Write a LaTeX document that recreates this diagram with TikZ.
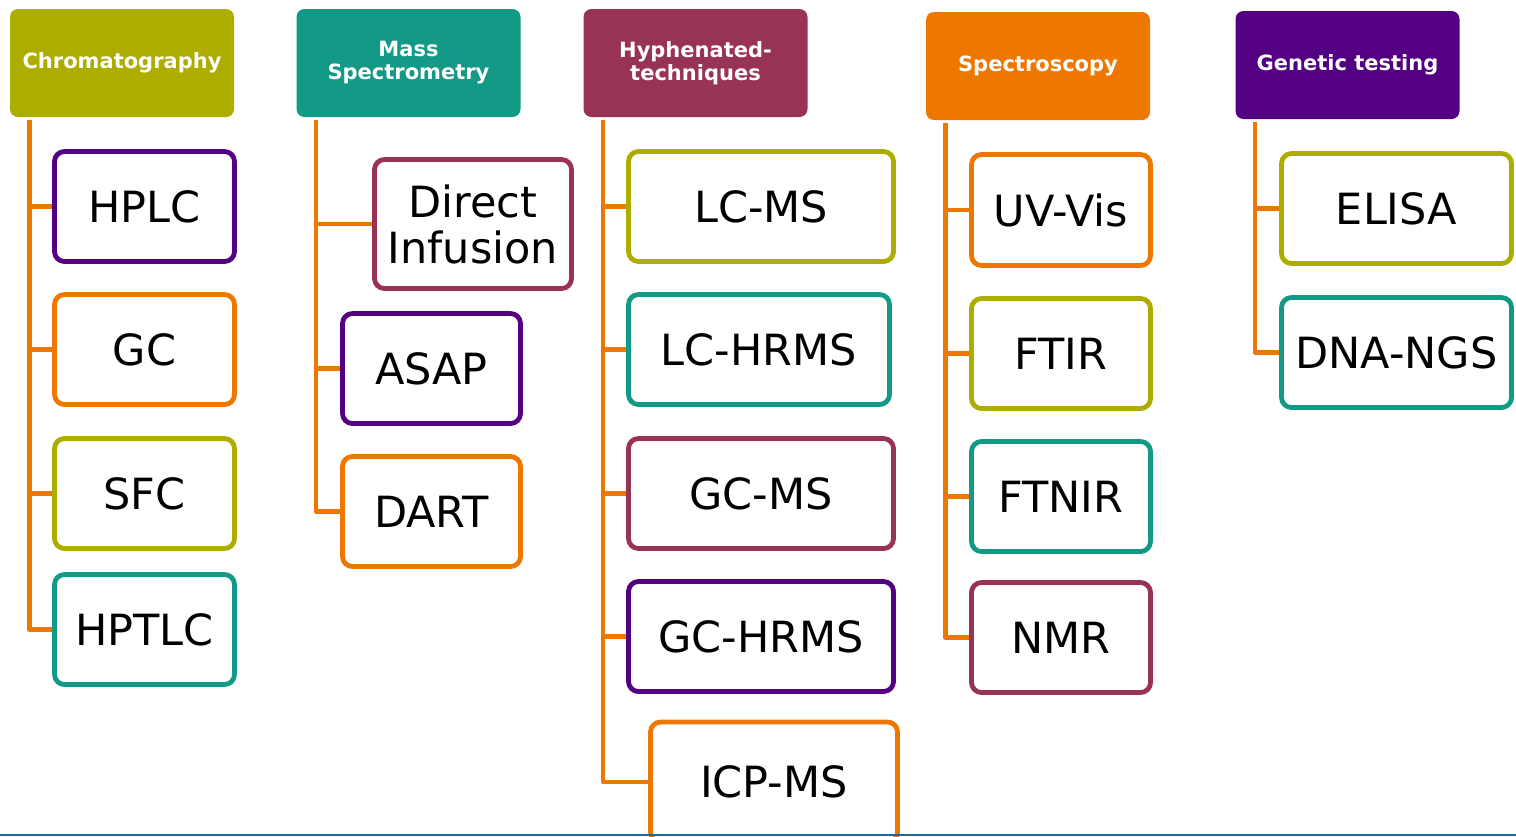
\documentclass[tikz,border=0pt]{standalone}
\usepackage{fontspec}
\setmainfont{DejaVu Sans}
\usepackage{tikz}
\usetikzlibrary{positioning}

\definecolor{olive}{RGB}{173,173,0}
\definecolor{teal}{RGB}{19,154,135}
\definecolor{rose}{RGB}{152,51,85}
\definecolor{orange}{RGB}{238,119,0}
\definecolor{violet}{RGB}{84,0,130}
\definecolor{edge}{RGB}{31,105,150}

\begin{document}
\begin{tikzpicture}[x=0.5pt,y=-0.5pt,
	head/.style={fill=#1,rounded corners=4pt,text=white,align=center,inner sep=0pt,
		minimum width=112pt,minimum height=54pt,
		font=\bfseries\fontsize{10.5pt}{11.5pt}\selectfont},
	kid/.style={draw=#1,fill=white,line width=2.4pt,rounded corners=5pt,align=center,inner sep=0pt,
		minimum height=55pt,font=\fontsize{21.5pt}{23pt}\selectfont},
	link/.style={draw=orange,line width=2.3pt,line join=round},
	]
	\clip (0,0) rectangle (1516,836);
	% headers
	\node[head=olive] (chrom) at (122,63) {Chromatography};
	\node[head=teal] (mass) at (408.5,63) {Mass\\Spectrometry};
	\node[head=rose] (hyph) at (695.5,63) {Hyphenated-\\techniques};
	\node[head=orange] (spec) at (1038,66) {Spectroscopy};
	\node[head=violet] (gene) at (1347.5,65) {Genetic testing};
	% chromatography
	\node[kid=violet,minimum width=90pt] (hplc) at (144.5,206.5) {HPLC};
	\node[kid=orange,minimum width=90pt] (gc) at (144.5,349.5) {GC};
	\node[kid=olive,minimum width=90pt] (sfc) at (144.5,493.5) {SFC};
	\node[kid=teal,minimum width=90pt] (hptlc) at (144.5,629.5) {HPTLC};
	% mass spectrometry
	\node[kid=rose,minimum width=98.5pt,minimum height=64.5pt] (di) at (473,224) {Direct\\Infusion};
	\node[kid=violet,minimum width=89pt] (asap) at (431.5,368.5) {ASAP};
	\node[kid=orange,minimum width=89pt] (dart) at (431.5,511.5) {DART};
	% hyphenated techniques
	\node[kid=olive,minimum width=132.5pt] (lcms) at (761,206.5) {LC-MS};
	\node[kid=teal,minimum width=130.5pt] (lchrms) at (759,349.5) {LC-HRMS};
	\node[kid=rose,minimum width=132.5pt] (gcms) at (761,493.5) {GC-MS};
	\node[kid=violet,minimum width=132.5pt] (gchrms) at (761,636.5) {GC-HRMS};
	\node[kid=orange,minimum width=123.5pt,minimum height=60pt] (icpms) at (774,782) {ICP-MS};
	% spectroscopy
	\node[kid=orange,minimum width=89.5pt,minimum height=55.5pt] (uvvis) at (1061,210) {UV-Vis};
	\node[kid=olive,minimum width=89.5pt] (ftir) at (1061,353.5) {FTIR};
	\node[kid=teal,minimum width=89.5pt] (ftnir) at (1061,496.5) {FTNIR};
	\node[kid=rose,minimum width=89.5pt] (nmr) at (1061,637.5) {NMR};
	% genetic testing
	\node[kid=olive,minimum width=115pt] (elisa) at (1396.5,208.5) {ELISA};
	\node[kid=teal,minimum width=115pt] (dna) at (1396.5,352.5) {DNA-NGS};
	% trunks
	\coordinate (t1) at ([xshift=10pt,yshift=-1.5pt]chrom.south west);
	\coordinate (t2) at ([xshift=10pt,yshift=-1.5pt]mass.south west);
	\coordinate (t3) at ([xshift=10pt,yshift=-1.5pt]hyph.south west);
	\coordinate (t4) at ([xshift=10pt,yshift=-1.5pt]spec.south west);
	\coordinate (t5) at ([xshift=10pt,yshift=-1.5pt]gene.south west);
	\draw[link] (t1) |- (hptlc);
	\foreach \n in {hplc,gc,sfc} \draw[link] (\n) -- (\n -| t1);
	\draw[link] (t2) |- (dart);
	\foreach \n in {di,asap} \draw[link] (\n) -- (\n -| t2);
	\draw[link] (t3) |- (icpms.west);
	\foreach \n in {lcms,lchrms,gcms,gchrms} \draw[link] (\n) -- (\n -| t3);
	\draw[link] (t4) |- (nmr);
	\foreach \n in {uvvis,ftir,ftnir} \draw[link] (\n) -- (\n -| t4);
	\draw[link] (t5) |- (dna);
	\draw[link] (elisa) -- (elisa -| t5);
	% bottom edge
	\draw[edge,line width=0.6pt] (0,835) -- (1516,835);
\end{tikzpicture}
\end{document}
